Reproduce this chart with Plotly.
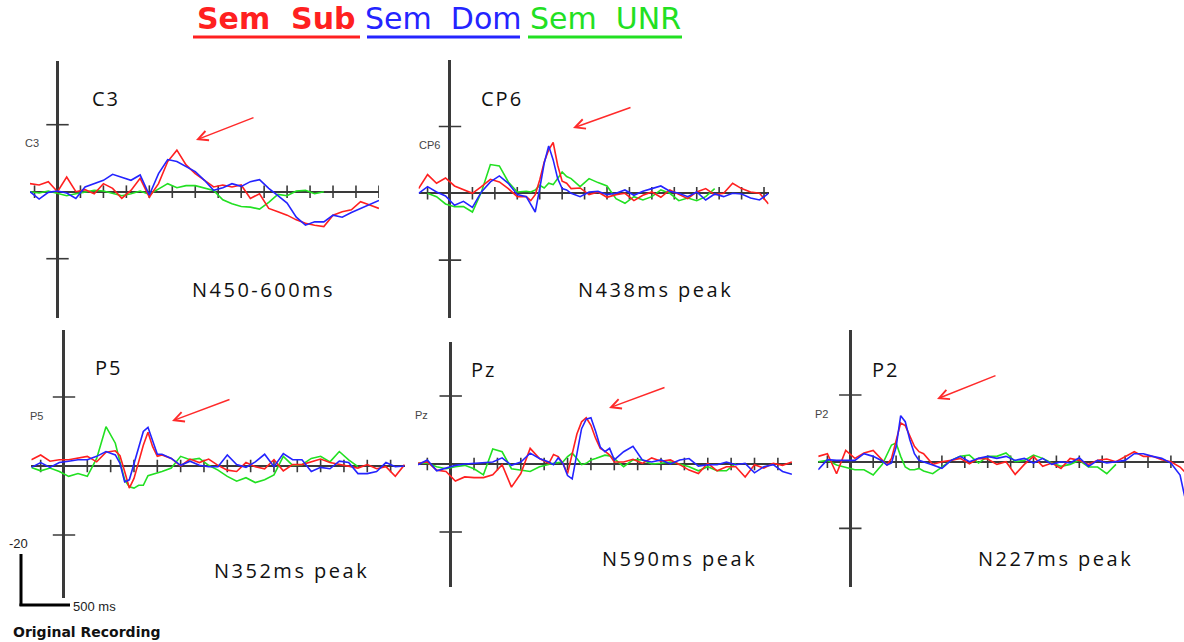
import plotly.graph_objects as go

W, H = 1184, 642

# ---------------- data (amplitude in µV, scale tick = 10 µV; time in ms) ----------------
SERIES_NAMES = ["Sem Sub", "Sem Dom", "Sem UNR"]
SERIES_COLORS = ["#ff2020", "#2424ff", "#22e022"]

TIME_C3 = list(range(-120, 1401, 40))
C3_SUB = [1.2, 1.0, 1.5, 0.0, 2.2, 0.0, 0.3, -0.3, 1.2, 0.5, -1.0, 0.2, 2.0, -0.8, 1.2,
          4.5, 6.2, 4.0, 2.7, 1.7, 0.7, 1.0, 0.7, 1.0, -1.0, -0.3, -2.5, -3.0, -3.5, -4.2,
          -4.7, -5.0, -5.2, -3.5, -3.0, -2.7, -1.5, -2.0, -2.5]
C3_DOM = [0.0, -1.1, -0.1, 0.1, -0.2, -1.0, 0.7, 1.2, 1.7, 2.6, 2.1, 1.7, 2.5, -0.5, 2.7,
          4.8, 4.5, 3.7, 3.0, 1.7, 0.2, 0.6, 1.2, 0.8, 1.5, 1.8, 0.5, -0.6, -1.7, -3.8,
          -5.0, -4.5, -4.5, -3.5, -3.8, -3.1, -2.5, -2.0, -1.3]
C3_UNR = [0.0, -0.2, 0.1, -0.3, -0.6, -0.3, 0.0, 0.2, 0.1, -0.2, -0.6, -0.3, 0.1, -0.4, 0.4,
          1.2, 0.6, 0.9, 0.9, 0.6, 0.2, -1.2, -1.8, -2.2, -2.3, -2.6, -1.6, -0.4, -0.6, 0.1,
          0.2, -0.3, 0.0, None, None, None, None, None, None]

TIME_CP6 = list(range(-140, 341, 40)) + list(range(360, 521, 20)) + list(range(540, 1421, 40))
CP6_SUB = [0.7, 2.8, 1.5, 2.3, 1.1, 0.6, 0.0, 1.0, 2.1, 1.7, 0.7, -0.5, -0.5,
           -1.1, -0.2, 2.0, 4.7, 6.5, 7.6, 4.2, 1.8, 1.5,
           0.7, 0.8, -0.2, 0.2, -0.6, -0.2, 0.0, -1.1, -0.3, 0.2, -0.6, 0.5, -0.1, -0.8,
           0.2, 0.7, -0.2, 0.0, 1.5, 0.7, 0.2, 0.0, -1.6]
CP6_DOM = [0.0, 1.0, 0.2, -0.4, -1.8, -1.2, -2.1, 0.2, 1.7, 2.6, 1.5, -0.2, -0.5,
           -1.7, -2.8, 0.7, 4.5, 7.1, 5.0, 2.2, 0.7, 0.5,
           0.0, -0.5, 0.2, 0.3, -0.2, 0.0, 0.5, -0.3, 0.3, 0.7, 1.1, 0.3, 0.0, -0.5,
           0.2, -1.0, -0.1, -0.5, 0.0, -0.1, -0.7, -1.0, 0.0]
CP6_UNR = [None, 0.0, -0.5, -1.6, -2.0, -2.0, -2.8, 0.2, 4.3, 4.1, 1.7, 0.2, 0.3,
           0.2, 0.5, 1.2, 0.8, 1.5, 1.3, 2.2, 3.2, 2.5,
           2.2, 1.0, 2.2, 1.6, 1.1, -0.8, -1.5, -0.5, -1.0, -0.5, 0.5, 0.0, -1.1, -0.7,
           -1.1, -0.5, 0.7, None, None, None, None, None, None]

TIME_P5 = list(range(-140, 221, 40)) + list(range(240, 421, 20)) + list(range(460, 1461, 40))
P5_SUB = [0.9, 1.6, 0.7, 0.9, 0.9, 1.1, 1.4, 0.6, 2.0, 2.2,
          1.5, -0.8, -3.2, -1.8, 0.6, 3.0, 4.9, 2.8, 1.4, 1.6,
          1.1, 0.0, 1.0, 0.5, 1.0, 0.1, -0.6, -0.8, 0.5, -0.1, -0.4, 0.9, -0.7, 0.2,
          0.2, 0.6, 1.0, 0.5, 0.2, 0.0, -0.3, 0.2, -0.4, -0.1, -1.5, 0.2]
P5_DOM = [-0.2, 0.5, -0.2, 0.5, 0.7, 0.9, 0.9, 1.4, 2.1, 1.6,
          0.4, -2.3, -2.0, 0.4, 2.7, 5.0, 5.6, 3.5, 1.7, 1.7,
          1.1, 0.1, 0.7, 0.1, -0.1, -0.1, 1.6, 0.2, -0.2, 0.6, 1.7, -0.1, 1.8, 0.9,
          0.9, -0.8, -0.2, -0.4, 0.7, 0.5, -1.1, -1.1, -0.8, 0.5, -0.1, 0.0]
P5_UNR = [-0.2, -0.7, -0.3, -0.8, -1.5, -1.1, -1.5, 1.1, 5.7, 3.3,
          0.6, -2.0, -3.0, -3.2, -2.8, -2.8, -1.4, -1.2, -1.1, -0.8,
          -0.3, 1.4, 0.9, 1.1, 0.1, -0.6, -1.5, -2.2, -1.7, -2.4, -2.0, -1.3, 1.4, 0.1,
          0.2, 1.1, 1.4, 0.6, 2.1, 0.9, -0.1, None, None, None, None, None]

TIME_PZ = list(range(-140, 421, 40)) + list(range(440, 701, 20)) + list(range(740, 1461, 40))
PZ_SUB = [0.1, 0.3, -0.9, -1.1, -2.5, -1.9, -2.0, -2.0, -1.6, -0.1, -3.4, -1.4, 2.3, 0.8, 0.1,
          1.4, 1.1, 0.1, -1.4, 1.3, 4.4, 6.2, 6.8, 5.7, 3.8, 2.3, 1.9, 1.3, 0.3,
          0.3, 0.7, 0.1, 0.9, 0.4, 0.6, -0.1, -0.9, -1.4, 0.1, -1.0, -0.4, -0.4, -1.9,
          -0.1, -0.6, 0.1, -0.2, 0.3]
PZ_DOM = [-0.1, 0.6, -1.0, -0.6, -0.2, 0.0, 0.1, 0.2, 0.3, 0.9, -0.2, 0.3, 1.6, 0.8, 0.3,
          -0.1, 0.9, 0.1, -1.7, -2.2, 1.6, 5.2, 6.6, 6.8, 4.8, 2.5, 1.8, 2.3, 0.6,
          1.8, 2.6, 0.6, 0.3, 0.6, 0.0, 0.6, 0.8, -0.3, -0.1, -0.1, 0.3, -0.1, 0.1,
          -1.3, -0.4, -0.1, -1.1, -1.5]
PZ_UNR = [0.1, 0.1, -0.4, -0.7, -0.4, -0.2, -0.7, -1.6, 2.2, 1.8, -0.7, -0.9, -1.1, -0.4, 0.0,
          0.1, 0.2, 0.3, 1.1, 1.6, 0.8, -0.1, 0.1, 0.6, 0.8, 1.1, 1.3, 1.2, 0.8,
          -0.4, 0.6, 0.6, 0.0, 0.1, 0.3, 0.0, -0.4, -1.0, -0.4, -1.0, -1.0, 0.1,
          None, None, None, None, None, None]

TIME_P2 = list(range(-140, 141, 40)) + list(range(160, 321, 20)) + list(range(360, 1441, 40)) + [1460]
P2_SUB = [0.8, 1.2, -1.8, 1.7, 0.5, 1.3, 1.7, 0.2,
          -0.5, 0.5, 3.3, 5.8, 5.4, 3.8, 2.3, 1.5, 1.2,
          -0.4, 0.0, 0.2, 0.5, -0.3, 0.5, 0.4, -0.4, 0.0, -1.9, -0.4, 0.8, -0.7, -0.2,
          -1.0, 0.5, 0.2, -0.4, 0.2, 0.4, 0.0, 0.8, 1.5, 0.8, 0.8, 0.3, 0.0, -0.8,
          -1.5]
P2_DOM = [-1.2, 0.3, 0.2, 0.2, 0.2, 1.2, 0.8, 0.1,
          -0.5, -0.2, 2.2, 6.9, 6.0, 3.3, 1.2, 0.2, 0.0,
          -0.5, -1.0, 0.2, 0.8, 0.0, 0.5, 0.8, 0.5, 0.8, 0.2, 0.5, -0.2, 0.5, -0.4,
          0.0, -0.2, 0.6, -0.7, 0.2, -0.2, 0.0, 0.2, 1.2, 1.2, 0.8, 0.5, -0.2, -2.0,
          -5.2]
P2_UNR = [0.0, 0.2, -0.5, -0.8, -1.2, -1.2, -2.0, -0.4,
          1.0, 2.5, 2.8, 0.8, -0.8, -1.2, -1.2, -1.0, -1.4,
          -1.8, -0.8, 0.2, 0.8, 1.0, -0.2, 0.8, 0.8, 1.3, 0.0, 0.2, 1.0, 0.5, -0.2,
          -0.7, -0.4, 0.2, -0.8, -0.8, -1.8, -0.4, None, None, None, None, None, None, None,
          None]

PANEL_LABELS = ["C3", "CP6", "P5", "Pz", "P2"]
PANEL_NOTES = ["N450-600ms", "N438ms peak", "N352ms peak", "N590ms peak", "N227ms peak"]
TICK_UV = 10

# ---------------- layout geometry (pixels) ----------------
GEOM = [
    dict(x0=57.5, s=0.2296, base=191.7, ppu=6.7, top=61, bot=318,
         lab=(106, 98), small=(41, 143), note=(263, 290), arrow=((255, 117), (196, 140))),
    dict(x0=450.0, s=0.2243, base=193.3, ppu=6.68, top=60, bot=318,
         lab=(502, 98), small=(442, 145), note=(655, 290), arrow=((632, 107), (573, 128))),
    dict(x0=64.0, s=0.2333, base=466.0, ppu=6.9, top=330, bot=598,
         lab=(108, 368), small=(45, 416), note=(291, 570), arrow=((231, 399), (172, 421))),
    dict(x0=450.7, s=0.2337, base=464.0, ppu=6.8, top=342, bot=587,
         lab=(483, 369), small=(430, 415), note=(679, 558), arrow=((666, 387), (609, 408))),
    dict(x0=850.3, s=0.229, base=461.7, ppu=6.67, top=330, bot=587,
         lab=(885, 369), small=(830, 414), note=(1055, 558), arrow=((997, 375), (937, 399))),
]

PANEL_DATA = [
    (TIME_C3, C3_SUB, C3_DOM, C3_UNR),
    (TIME_CP6, CP6_SUB, CP6_DOM, CP6_UNR),
    (TIME_P5, P5_SUB, P5_DOM, P5_UNR),
    (TIME_PZ, PZ_SUB, PZ_DOM, PZ_UNR),
    (TIME_P2, P2_SUB, P2_DOM, P2_UNR),
]

AXIS_COLOR = "#3a3a3a"


def px(x, y):
    return x / W, 1 - y / H


fig = go.Figure()
annotations = []
shapes = []
layout_axes = {}

for i, ((times, sub, dom, unr), g) in enumerate(zip(PANEL_DATA, GEOM)):
    n = i + 1
    xa = "x" if n == 1 else f"x{n}"
    ya = "y" if n == 1 else f"y{n}"
    tmin, tmax = times[0], times[-1]
    pl = max(0.0, g["x0"] + tmin * g["s"])
    pr = min(W, g["x0"] + tmax * g["s"])
    xr = [(pl - g["x0"]) / g["s"], (pr - g["x0"]) / g["s"]]
    yr = [-(g["bot"] - g["base"]) / g["ppu"], (g["base"] - g["top"]) / g["ppu"]]
    layout_axes["xaxis" if n == 1 else f"xaxis{n}"] = dict(
        domain=[pl / W, pr / W], range=xr, anchor=ya, showgrid=False, showticklabels=False,
        ticks="", showline=False, zeroline=True, zerolinecolor=AXIS_COLOR, zerolinewidth=2.5,
        fixedrange=True)
    layout_axes["yaxis" if n == 1 else f"yaxis{n}"] = dict(
        domain=[1 - g["bot"] / H, 1 - g["top"] / H], range=yr, anchor=xa, showgrid=False,
        showticklabels=False, ticks="", showline=False, zeroline=True,
        zerolinecolor=AXIS_COLOR, zerolinewidth=2, fixedrange=True)

    # tick marks on the axes
    xt = [t for t in range(-100, 1501, 100) if t != 0 and xr[0] <= t <= xr[1]]
    fig.add_trace(go.Scatter(x=xt, y=[0] * len(xt), mode="markers", xaxis=xa, yaxis=ya,
                             marker=dict(symbol="line-ns", size=9,
                                         line=dict(width=1.6, color=AXIS_COLOR)),
                             hoverinfo="skip", showlegend=False))
    fig.add_trace(go.Scatter(x=[0, 0], y=[TICK_UV, -TICK_UV], mode="markers", xaxis=xa, yaxis=ya,
                             marker=dict(symbol="line-ew", size=16,
                                         line=dict(width=1.6, color=AXIS_COLOR)),
                             hoverinfo="skip", showlegend=False))

    # waveforms: green first, then red, then blue
    for vals, name, col in [(unr, SERIES_NAMES[2], SERIES_COLORS[2]),
                            (sub, SERIES_NAMES[0], SERIES_COLORS[0]),
                            (dom, SERIES_NAMES[1], SERIES_COLORS[1])]:
        fig.add_trace(go.Scatter(x=times, y=vals, mode="lines", name=name, xaxis=xa, yaxis=ya,
                                 line=dict(color=col, width=1.6), connectgaps=False,
                                 hoverinfo="skip", showlegend=False))

    # texts
    lx, ly = px(*g["lab"])
    annotations.append(dict(x=lx, y=ly, xref="paper", yref="paper", showarrow=False,
                            xanchor="center", yanchor="middle",
                            text=f'<span style="letter-spacing:2px">{PANEL_LABELS[i]}</span>',
                            font=dict(family="Open Sans", size=20, color="#111111")))
    sx, sy = px(*g["small"])
    annotations.append(dict(x=sx, y=sy, xref="paper", yref="paper", showarrow=False,
                            xanchor="right", yanchor="middle", text=PANEL_LABELS[i],
                            font=dict(family="Liberation Sans", size=11, color="#444444")))
    nx, ny = px(*g["note"])
    annotations.append(dict(x=nx, y=ny, xref="paper", yref="paper", showarrow=False,
                            xanchor="center", yanchor="middle",
                            text=f'<span style="letter-spacing:2.5px">{PANEL_NOTES[i]}</span>',
                            font=dict(family="Open Sans", size=20, color="#111111")))
    (tx, ty), (hx, hy) = g["arrow"]
    ax_, ay_ = px(hx, hy)
    annotations.append(dict(x=ax_, y=ay_, xref="paper", yref="paper", text="",
                            showarrow=True, arrowhead=5, arrowsize=1.3, arrowwidth=1.5,
                            arrowcolor="#ff2a2a", ax=tx - hx, ay=ty - hy, standoff=0))

# legend-like header
LEGEND_POS = [(276, 193, 360), (443, 367, 520), (605, 528, 682)]
for name, col, (cx, x1, x2), bold in zip(SERIES_NAMES, SERIES_COLORS, LEGEND_POS, [True, False, False]):
    txt = name.replace(" ", "\u00a0\u00a0")
    if bold:
        txt = f"<b>{txt}</b>"
    x, y = px(cx, 19)
    annotations.append(dict(x=x, y=y, xref="paper", yref="paper", showarrow=False,
                            xanchor="center", yanchor="middle", text=txt,
                            font=dict(family="DejaVu Sans", size=30, color=col)))
    shapes.append(dict(type="line", xref="paper", yref="paper", x0=x1 / W, x1=x2 / W,
                       y0=1 - 37 / H, y1=1 - 37 / H, line=dict(color=col, width=3)))

# scale bar, bottom-left
shapes.append(dict(type="line", xref="paper", yref="paper", x0=21 / W, x1=21 / W,
                   y0=1 - 554 / H, y1=1 - 606 / H, line=dict(color="black", width=3)))
shapes.append(dict(type="line", xref="paper", yref="paper", x0=19.5 / W, x1=70 / W,
                   y0=1 - 605 / H, y1=1 - 605 / H, line=dict(color="black", width=3)))
for text, (x, y), anchor, fnt in [
    ("-20", (7, 543), "left", dict(family="Liberation Sans", size=13, color="#222222")),
    ("500 ms", (71, 606), "left", dict(family="Liberation Sans", size=13, color="#222222")),
    ("<b>Original Recording</b>", (11, 632), "left", dict(family="DejaVu Sans", size=14, color="#111111")),
]:
    xx, yy = px(x, y)
    annotations.append(dict(x=xx, y=yy, xref="paper", yref="paper", showarrow=False,
                            xanchor=anchor, yanchor="middle", text=text, font=fnt))

fig.update_layout(
    width=W, height=H, autosize=False,
    margin=dict(l=0, r=0, t=0, b=0),
    paper_bgcolor="white", plot_bgcolor="rgba(0,0,0,0)",
    showlegend=False,
    annotations=annotations, shapes=shapes,
    **layout_axes,
)

fig.write_html("out.html", post_script="document.body.style.margin='0';")
